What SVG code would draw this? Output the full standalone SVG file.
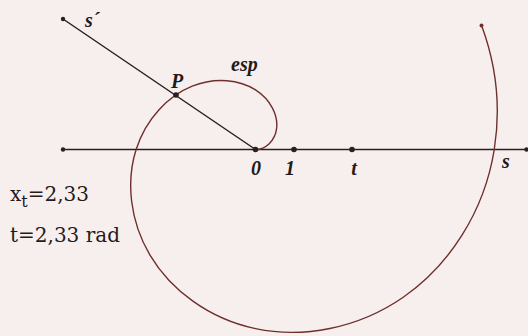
<svg xmlns="http://www.w3.org/2000/svg" width="528" height="336" viewBox="0 0 528 336">
<style>
.ax{stroke:#2a1e1e;stroke-width:1.5;fill:none;stroke-linecap:round}
.sp{stroke:#6e302b;stroke-width:1.4;fill:none}
.dot{fill:#2a1e1e}
.lb{font-family:"Liberation Serif","DejaVu Serif",serif;font-style:italic;font-weight:bold;font-size:20px;fill:#241a1a}
.tx{font-family:"DejaVu Serif","Liberation Serif",serif;font-size:20px;fill:#241a1a}
</style>
<rect width="528" height="336" fill="#f7efee"/>
<g id="connectors">
<line id="axis-s" class="ax" x1="63" y1="149.5" x2="527" y2="149.5"/>
<line id="axis-s-prime" class="ax" x1="63" y1="19" x2="255.5" y2="149.5"/>
<path id="spiral-esp" class="sp" d="M255.5,149.5 C265.45,149.5 275.1,140.95 276.61,128.39 C278.12,115.83 271.13,99.76 255.5,89.81 C239.87,79.86 215.8,76.65 192.19,86.19 C168.58,95.73 146.07,118.25 136.12,149.5 C126.17,180.75 129.39,220.36 149.98,255.02 C170.57,289.68 208.62,318.62 255.5,328.57 C302.38,338.52 357.52,328.87 403.23,297.23 C448.94,265.59 484.31,212.01 494.26,149.5 C500.63,109.48 496.71,66.2 481.47,25.26"/>
</g>
<g id="node-axis-left"><circle class="dot" cx="63" cy="149.5" r="2.2"/></g>
<g id="node-axis-right"><circle class="dot" cx="526.5" cy="149.5" r="2.2"/></g>
<g id="node-sprime-end"><circle class="dot" cx="63" cy="19" r="2.2"/><text class="lb" x="85" y="27">s´</text></g>
<g id="node-spiral-end"><circle cx="481.5" cy="25.5" r="2" fill="#6e302b"/></g>
<g id="node-O"><circle class="dot" cx="255.5" cy="149.5" r="2.8"/><text class="lb" x="256" y="175" text-anchor="middle">0</text></g>
<g id="node-1"><circle class="dot" cx="294" cy="149.5" r="2.8"/><text class="lb" x="290" y="175" text-anchor="middle">1</text></g>
<g id="node-t"><circle class="dot" cx="352" cy="149.5" r="2.8"/><text class="lb" x="354" y="175" text-anchor="middle">t</text></g>
<g id="node-s"><text class="lb" x="502" y="168">s</text></g>
<g id="node-P"><circle class="dot" cx="176" cy="95" r="2.8"/><text class="lb" x="171" y="88">P</text></g>
<g id="node-esp"><text class="lb" x="231" y="71">esp</text></g>
<g id="node-values">
<text class="tx" x="10" y="201">x<tspan font-size="16" dy="6">t</tspan><tspan dy="-6">=2,33</tspan></text>
<text class="tx" x="10" y="242">t=2,33 rad</text>
</g>
</svg>
